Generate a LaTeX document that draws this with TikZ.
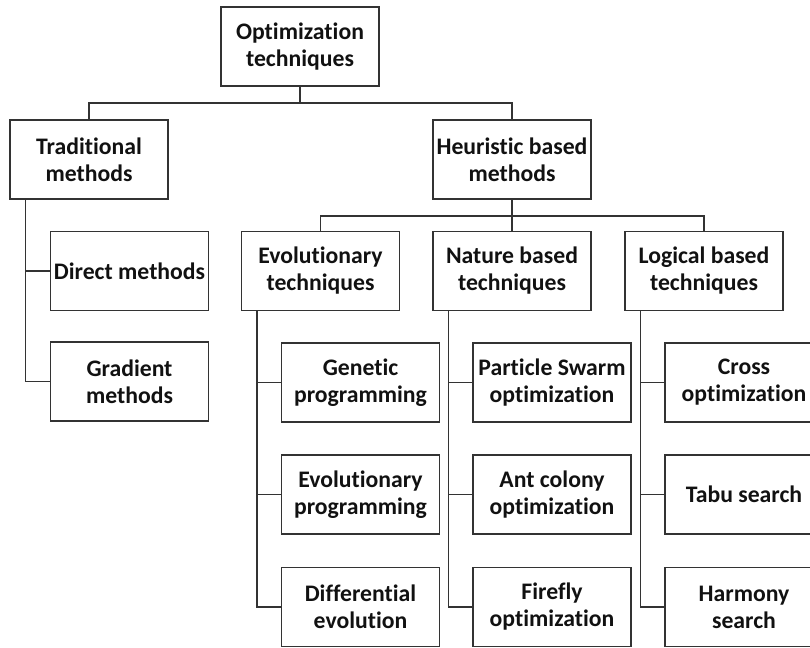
\documentclass[tikz,border=0pt]{standalone}
\usepackage{fontspec}
\setmainfont{Carlito}[Ligatures={NoCommon}]
\definecolor{linec}{HTML}{333333}
\definecolor{textc}{HTML}{111111}
\begin{document}
\begin{tikzpicture}[x=1pt,y=-1pt,
  box/.style={draw=linec, line width=1.3pt, rectangle, minimum width=158pt, minimum height=79pt,
    align=center, inner sep=0pt, text=textc, font=\fontsize{23.7}{27}\selectfont\bfseries},
  conn/.style={draw=linec, line width=1.3pt}]
\useasboundingbox (0,0) rectangle (810,647);
\clip (0,0) rectangle (810,647);
\node[box] (root) at (300,46.5) {Optimization\\techniques};
\node[box] (trad) at (89,159.5) {Traditional\\methods};
\node[box] (heur) at (512,159.5) {Heuristic based\\methods};
\node[box] (direct) at (129.5,271) {Direct methods};
\node[box] (gradient) at (129.5,381.5) {Gradient\\methods};
\node[box] (evol) at (320.5,271) {Evolutionary\\techniques};
\node[box] (nature) at (512,271) {Nature based\\techniques};
\node[box] (logical) at (704,271) {Logical based\\techniques};
\node[box] (genetic) at (360.5,382.5) {Genetic\\programming};
\node[box] (evprog) at (360.5,494.5) {Evolutionary\\programming};
\node[box] (diff) at (360.5,607) {Differential\\evolution};
\node[box] (pso) at (552,382.5) {Particle Swarm\\optimization};
\node[box] (aco) at (552,494.5) {Ant colony\\optimization};
\node[box] (firefly) at (552,607) {Firefly\\optimization};
\node[box] (cross) at (744,382.5) {Cross\\optimization};
\node[box] (tabu) at (744,494.5) {Tabu search};
\node[box] (harmony) at (744,607) {Harmony\\search};
\coordinate (bus1) at (0,103);
\coordinate (bus2) at (0,216);
\draw[conn] (root.south) -- (root.south |- bus1) -| (trad.north);
\draw[conn] (root.south |- bus1) -| (heur.north);
\draw[conn] (heur.south) -- (heur.south |- bus2) -| (evol.north);
\draw[conn] (heur.south |- bus2) -| (logical.north);
\draw[conn] (heur.south |- bus2) -- (nature.north);
\draw[conn] ([xshift=16pt]trad.south west) |- (direct.west);
\draw[conn] ([xshift=16pt]trad.south west) |- (gradient.west);
\draw[conn] ([xshift=16pt]evol.south west) |- (genetic.west);
\draw[conn] ([xshift=16pt]evol.south west) |- (evprog.west);
\draw[conn] ([xshift=16pt]evol.south west) |- (diff.west);
\draw[conn] ([xshift=16pt]nature.south west) |- (pso.west);
\draw[conn] ([xshift=16pt]nature.south west) |- (aco.west);
\draw[conn] ([xshift=16pt]nature.south west) |- (firefly.west);
\draw[conn] ([xshift=16pt]logical.south west) |- (cross.west);
\draw[conn] ([xshift=16pt]logical.south west) |- (tabu.west);
\draw[conn] ([xshift=16pt]logical.south west) |- (harmony.west);
\end{tikzpicture}
\end{document}
